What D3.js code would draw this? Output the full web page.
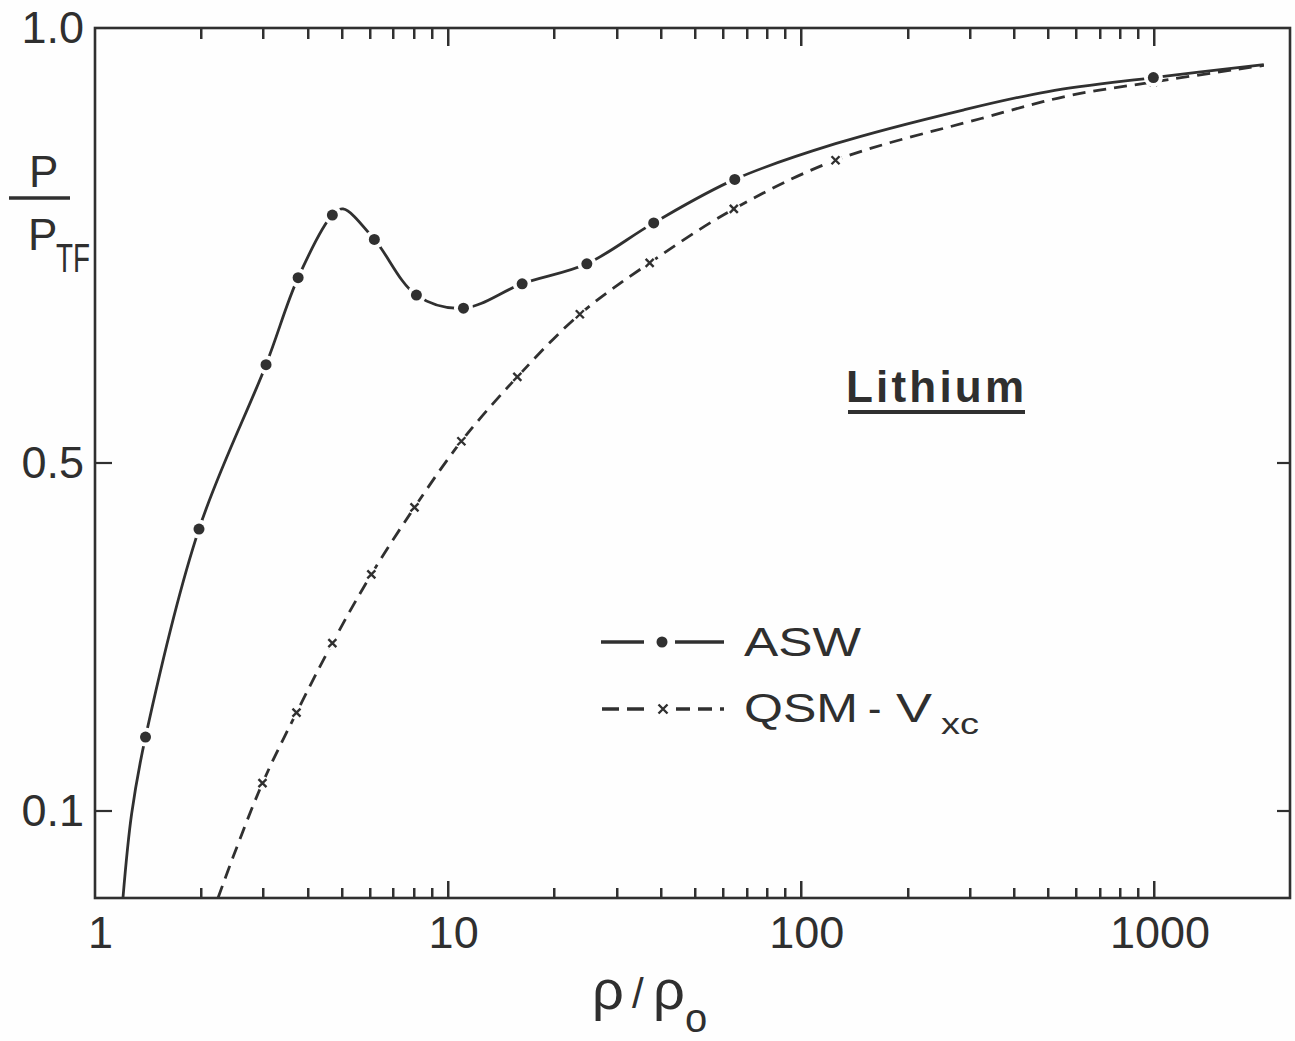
<!DOCTYPE html>
<html>
<head>
<meta charset="utf-8">
<script src="https://cdn.jsdelivr.net/npm/d3@7"></script>
<style>
  html, body { margin: 0; padding: 0; background: #fefefe; }
  svg { display: block; }
  text { font-family: "Liberation Sans", Arial, sans-serif; fill: #2f2f2f; }
</style>
</head>
<body>
<svg id="chart" width="1295" height="1041"></svg>
<script>
// ASW pressure ratio: computed points (dots)
const aswDotX = [1.39, 1.97, 3.05, 3.76, 4.70, 6.18, 8.13, 11.05, 16.2, 24.7, 38.2, 64.8, 993];
const aswDotY = [0.185, 0.424, 0.613, 0.713, 0.785, 0.757, 0.693, 0.678, 0.706, 0.729, 0.776, 0.826, 0.943];
// further points
const aswCurveX = [1.20, 1.27, 5.04, 125, 289, 500, 2040];
const aswCurveY = [0.000, 0.097, 0.792, 0.867, 0.906, 0.927, 0.958];

// QSM - Vxc: computed points (crosses)
const qsmCrossX = [2.98, 3.72, 4.70, 6.06, 8.03, 10.9, 15.7, 23.6, 37.2, 64.4, 125, 993];
const qsmCrossY = [0.132, 0.213, 0.293, 0.372, 0.449, 0.525, 0.599, 0.671, 0.730, 0.792, 0.848, 0.938];
// further points
const qsmCurveX = [2.23, 2.46, 323, 570, 2040];
const qsmCurveY = [0.000, 0.047, 0.896, 0.922, 0.957];

// axis ticks
const xMajorTicks = [1, 10, 100, 1000];
const xTickLabels = ["1", "10", "100", "1000"];
const xMinorTicks = [2, 3, 4, 5, 6, 7, 8, 9, 20, 30, 40, 50, 60, 70, 80, 90, 200, 300, 400, 500, 600, 700, 800, 900];
const yTicks = [0.1, 0.5, 1.0];
const yTickLabels = ["0.1", "0.5", "1.0"];
const yMarkTicks = [0.1, 0.5];

const ink = "#303030";
const paper = "#fefefe";
const svg = d3.select("#chart");

const plotLeft = 95, plotRight = 1290, plotTop = 28, plotBottom = 898;
const x = d3.scaleLog().domain([1, 2420]).range([plotLeft, plotRight]);
const y = d3.scaleLinear().domain([0, 1]).range([plotBottom, plotTop]);

const zip = (xs, ys) => xs.map((v, i) => ({ x: v, y: ys[i] }));
const aswDots = zip(aswDotX, aswDotY);
const qsmCrosses = zip(qsmCrossX, qsmCrossY);
const aswLine = aswDots.concat(zip(aswCurveX, aswCurveY)).sort((a, b) => a.x - b.x);
const qsmLine = qsmCrosses.concat(zip(qsmCurveX, qsmCurveY)).sort((a, b) => a.x - b.x);

// frame
svg.append("rect")
  .attr("x", plotLeft).attr("y", plotTop)
  .attr("width", plotRight - plotLeft).attr("height", plotBottom - plotTop)
  .attr("fill", "none").attr("stroke", ink).attr("stroke-width", 2.6);

// inward tick marks on the top and bottom edges
const xTickSet = xMajorTicks.slice(1).map(v => ({ v, len: 17 }))
  .concat(xMinorTicks.map(v => ({ v, len: 10 })));
const xTickG = svg.append("g");
xTickG.selectAll("rect.xb").data(xTickSet).join("rect").attr("class", "xb")
  .attr("x", d => Math.round(x(d.v)) - 1).attr("width", 2.5)
  .attr("y", d => plotBottom - d.len).attr("height", d => d.len)
  .attr("fill", ink);
xTickG.selectAll("rect.xt").data(xTickSet).join("rect").attr("class", "xt")
  .attr("x", d => Math.round(x(d.v)) - 1).attr("width", 2.5)
  .attr("y", plotTop).attr("height", d => d.len + 1)
  .attr("fill", ink);

// inward tick marks on the left and right edges
const yTickG = svg.append("g").attr("stroke", ink).attr("stroke-width", 2.2);
yTickG.selectAll("line.yl").data(yMarkTicks).join("line").attr("class", "yl")
  .attr("x1", plotLeft).attr("x2", plotLeft + 17)
  .attr("y1", d => y(d)).attr("y2", d => y(d));
yTickG.selectAll("line.yr").data(yMarkTicks).join("line").attr("class", "yr")
  .attr("x1", plotRight).attr("x2", plotRight - 13)
  .attr("y1", d => y(d)).attr("y2", d => y(d));

function styleAxis(g, fontSize) {
  g.select(".domain").remove();
  g.selectAll(".tick line").remove();
  g.selectAll(".tick text")
    .attr("fill", ink)
    .style("font-family", "'Liberation Sans', Arial, sans-serif")
    .style("font-size", fontSize + "px");
}

// tick labels
svg.append("g").attr("transform", `translate(0,${plotBottom})`)
  .call(d3.axisBottom(x).tickValues(xMajorTicks).tickSize(0)
    .tickPadding(18).tickFormat((d, i) => xTickLabels[i]))
  .call(g => styleAxis(g, 45))
  .call(g => g.selectAll(".tick text").attr("dx", 5));
svg.append("g").attr("transform", `translate(${plotLeft},0)`)
  .call(d3.axisLeft(y).tickValues(yTicks).tickSize(0)
    .tickPadding(11).tickFormat((d, i) => yTickLabels[i]))
  .call(g => styleAxis(g, 45));

const line = d3.line()
  .x(d => x(d.x)).y(d => y(d.y))
  .curve(d3.curveCatmullRom.alpha(0.5));

// QSM - Vxc dashed curve
svg.append("path").datum(qsmLine)
  .attr("d", line).attr("fill", "none")
  .attr("stroke", ink).attr("stroke-width", 2.8)
  .attr("stroke-dasharray", "13,8");

// ASW solid curve
svg.append("path").datum(aswLine)
  .attr("d", line).attr("fill", "none")
  .attr("stroke", ink).attr("stroke-width", 2.8);

// cross markers with a small gap in the line
function cross(g, cx, cy, s) {
  g.append("circle").attr("cx", cx).attr("cy", cy).attr("r", s + 3).attr("fill", paper);
  g.append("path")
    .attr("d", `M${cx - s},${cy - s}L${cx + s},${cy + s}M${cx - s},${cy + s}L${cx + s},${cy - s}`)
    .attr("stroke", ink).attr("stroke-width", 2.4).attr("fill", "none");
}
const crossG = svg.append("g");
qsmCrosses.forEach(d => cross(crossG, x(d.x), y(d.y), 4));

// dot markers with a gap in the line
const dotG = svg.append("g");
dotG.selectAll("circle.halo").data(aswDots).join("circle")
  .attr("class", "halo")
  .attr("cx", d => x(d.x)).attr("cy", d => y(d.y))
  .attr("r", 9.5).attr("fill", paper);
dotG.selectAll("circle.dot").data(aswDots).join("circle")
  .attr("class", "dot")
  .attr("cx", d => x(d.x)).attr("cy", d => y(d.y))
  .attr("r", 5.5).attr("fill", ink);

// legend
const lg = svg.append("g");
lg.append("line").attr("x1", 601).attr("x2", 644).attr("y1", 642).attr("y2", 642)
  .attr("stroke", ink).attr("stroke-width", 3.4);
lg.append("line").attr("x1", 675).attr("x2", 724).attr("y1", 642).attr("y2", 642)
  .attr("stroke", ink).attr("stroke-width", 3.4);
lg.append("circle").attr("cx", 662).attr("cy", 642).attr("r", 5.5).attr("fill", ink);
lg.append("text").attr("x", 744).attr("y", 656)
  .style("font-size", "40px")
  .attr("textLength", 117).attr("lengthAdjust", "spacingAndGlyphs").text("ASW");

lg.append("line").attr("x1", 602).attr("x2", 645).attr("y1", 709).attr("y2", 709)
  .attr("stroke", ink).attr("stroke-width", 3.4).attr("stroke-dasharray", "17,8");
lg.append("line").attr("x1", 676).attr("x2", 724).attr("y1", 709).attr("y2", 709)
  .attr("stroke", ink).attr("stroke-width", 3.4).attr("stroke-dasharray", "14,8");
cross(lg, 663, 709, 4.5);
lg.append("text").attr("x", 744).attr("y", 722)
  .style("font-size", "40px")
  .attr("textLength", 114).attr("lengthAdjust", "spacingAndGlyphs").text("QSM");
lg.append("text").attr("x", 868).attr("y", 722)
  .style("font-size", "40px").text("-");
lg.append("text").attr("x", 896).attr("y", 722)
  .style("font-size", "40px")
  .attr("textLength", 36).attr("lengthAdjust", "spacingAndGlyphs").text("V");
lg.append("text").attr("x", 941).attr("y", 734)
  .style("font-size", "30px")
  .attr("textLength", 38).attr("lengthAdjust", "spacingAndGlyphs").text("xc");

// material label
svg.append("text").attr("x", 846).attr("y", 402)
  .style("font-size", "44px").style("font-weight", "bold")
  .attr("textLength", 178).attr("lengthAdjust", "spacing")
  .text("Lithium");
svg.append("line").attr("x1", 848).attr("x2", 1025).attr("y1", 412).attr("y2", 412)
  .attr("stroke", ink).attr("stroke-width", 4.2);

// y axis title: P / P_TF
svg.append("text").attr("x", 29).attr("y", 187).style("font-size", "44px").text("P");
svg.append("line").attr("x1", 9).attr("x2", 70).attr("y1", 198).attr("y2", 198)
  .attr("stroke", ink).attr("stroke-width", 3.5);
svg.append("text").attr("x", 28).attr("y", 250).style("font-size", "44px").text("P");
svg.append("text").attr("x", 56).attr("y", 272).style("font-size", "40px")
  .attr("textLength", 34).attr("lengthAdjust", "spacingAndGlyphs").text("TF");

// x axis title: rho / rho_0
const xt = svg.append("g");
xt.append("text").attr("x", 592).attr("y", 1009).style("font-size", "56px").text("ρ");
xt.append("text").attr("x", 632).attr("y", 1008).style("font-size", "42px").text("/");
xt.append("text").attr("x", 653).attr("y", 1009).style("font-size", "56px").text("ρ");
xt.append("text").attr("x", 685).attr("y", 1032).style("font-size", "40px").text("o");
</script>
</body>
</html>
